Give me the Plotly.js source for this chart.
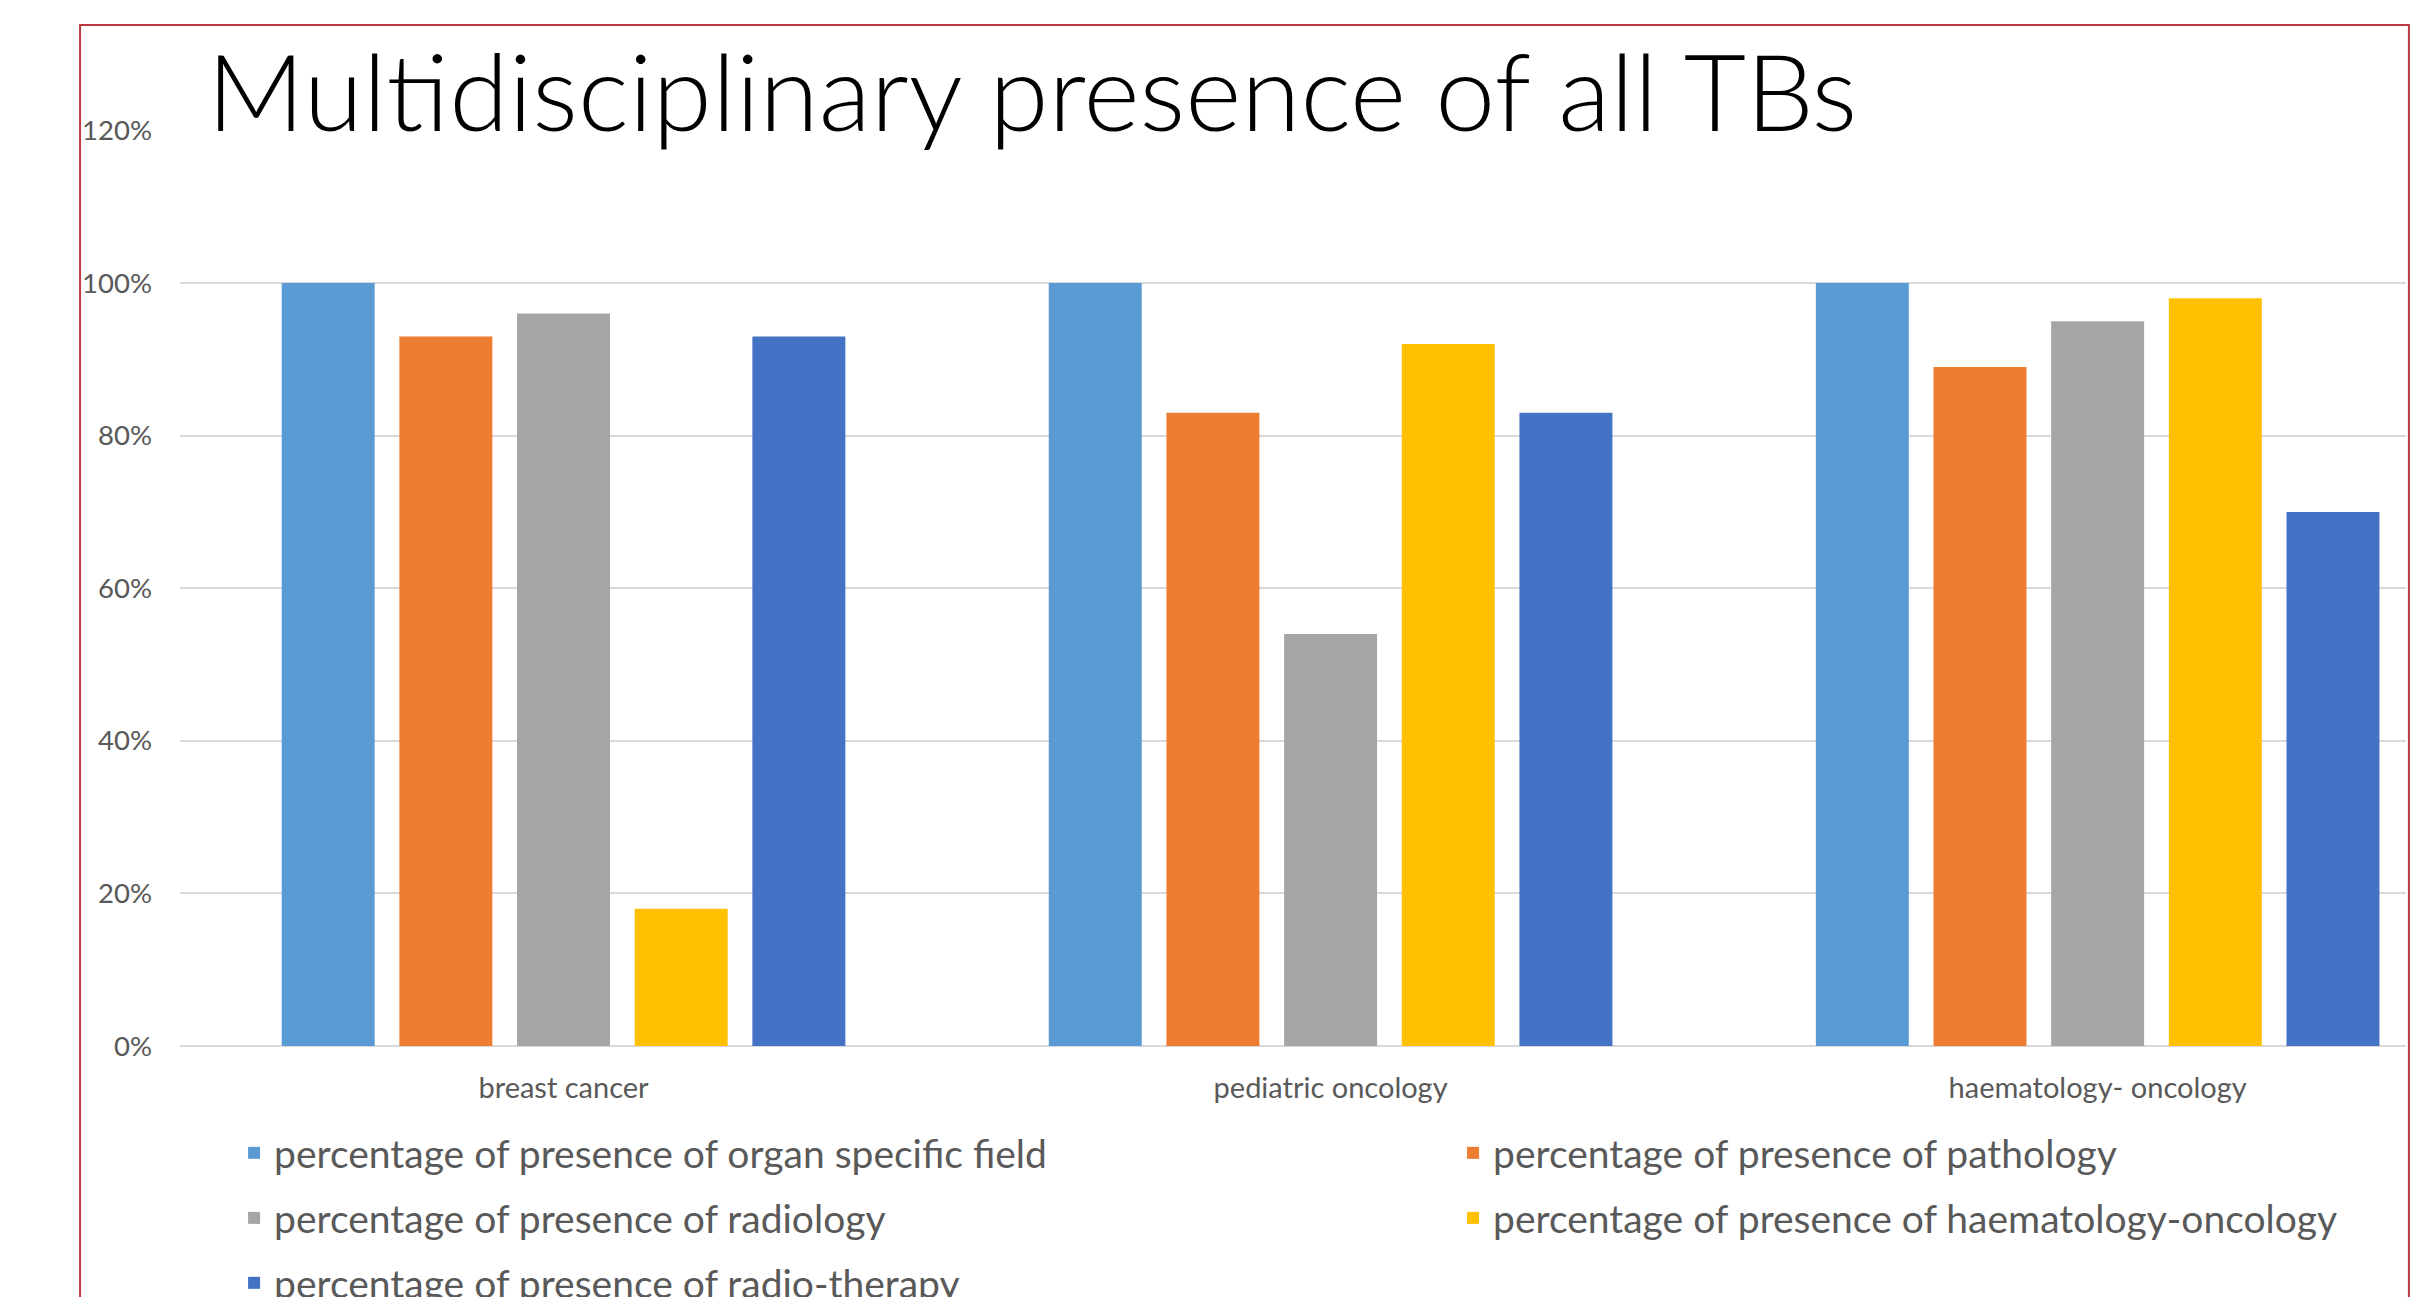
<!DOCTYPE html>
<html>
<head>
<meta charset="utf-8">
<script src="https://cdn.plot.ly/plotly-3.0.1.min.js"></script>
<style>
  html, body { margin: 0; padding: 0; background: #fff; }
  #wrap { width: 2427px; height: 1297px; overflow: hidden; position: relative; }
  #chart { width: 2427px; height: 1340px; }
</style>
</head>
<body>
<div id="wrap"><div id="chart"></div></div>
<script>
const categories = ['breast cancer', 'pediatric oncology', 'haematology- oncology'];
const organSpecific = [1.00, 1.00, 1.00];
const pathology = [0.93, 0.83, 0.89];
const radiology = [0.96, 0.54, 0.95];
const haemOnc = [0.18, 0.92, 0.98];
const radioTherapy = [0.93, 0.83, 0.70];
const seriesNames = [
  'percentage of presence of organ specific field',
  'percentage of presence of pathology',
  'percentage of presence of radiology',
  'percentage of presence of haematology-oncology',
  'percentage of presence of radio-therapy'
];
const yTickVals = [0, 0.2, 0.4, 0.6, 0.8, 1.0, 1.2];
const yTickText = ['0%', '20%', '40%', '60%', '80%', '100%', '120%'];
const titleText = 'Multidisciplinary presence of all TBs';

const seriesValues = [organSpecific, pathology, radiology, haemOnc, radioTherapy];
const colors = ['#5B9BD5', '#ED7D31', '#A5A5A5', '#FFC000', '#4472C4'];
const legendIds = ['legend', 'legend2', 'legend3', 'legend4', 'legend5'];

const traces = seriesValues.map((vals, i) => ({
  type: 'bar',
  x: categories,
  y: vals,
  name: seriesNames[i],
  marker: { color: colors[i] },
  legend: legendIds[i],
  hoverinfo: 'x+y+name'
}));

const textFont = { family: 'Lato, "Open Sans", sans-serif', color: '#595959' };
function legendAt(xPaper, yPaper) {
  return {
    orientation: 'h',
    x: xPaper, xanchor: 'left',
    y: yPaper, yanchor: 'middle',
    bgcolor: 'rgba(0,0,0,0)',
    borderwidth: 0,
    font: Object.assign({}, textFont, { size: 39 })
  };
}
const col1 = 0.0243, col2 = 0.5719;
const row1 = -0.1168, row2 = -0.1878, row3 = -0.2587;

const layout = {
  width: 2427, height: 1340,
  margin: { l: 180, r: 21, t: 130, b: 294, pad: 0 },
  paper_bgcolor: '#ffffff',
  plot_bgcolor: '#ffffff',
  barmode: 'group',
  bargap: 0.233,
  bargroupgap: 0.21,
  title: {
    text: titleText,
    font: { family: 'Lato, "Open Sans", sans-serif', size: 107.5, color: '#000000', weight: 300 },
    xref: 'container', x: 0.0853, xanchor: 'left',
    yref: 'container', y: 0.9585, yanchor: 'top'
  },
  xaxis: {
    type: 'category',
    range: [-0.5, 2.402],
    showgrid: false,
    showline: false,
    zeroline: false,
    ticks: '',
    ticklabelstandoff: 22,
    tickfont: Object.assign({}, textFont, { size: 29 })
  },
  yaxis: {
    range: [0, 1.2005],
    tickvals: yTickVals,
    ticktext: yTickText,
    showgrid: true,
    gridcolor: '#D9D9D9',
    gridwidth: 2,
    zeroline: true,
    zerolinecolor: '#D9D9D9',
    zerolinewidth: 2,
    showline: false,
    ticks: '',
    ticklabelstandoff: 27,
    tickfont: Object.assign({}, textFont, { size: 27.5 })
  },
  legend: legendAt(col1, row1),
  legend2: legendAt(col2, row1),
  legend3: legendAt(col1, row2),
  legend4: legendAt(col2, row2),
  legend5: legendAt(col1, row3),
  showlegend: true,
  shapes: [{
    type: 'rect', xref: 'paper', yref: 'paper',
    x0: -0.0449, x1: 1.0013, y0: -0.6, y1: 1.1146,
    line: { color: '#C0393F', width: 2 },
    fillcolor: 'rgba(0,0,0,0)',
    layer: 'above'
  }]
};

Plotly.newPlot('chart', traces, layout, { displayModeBar: false });
</script>
</body>
</html>
